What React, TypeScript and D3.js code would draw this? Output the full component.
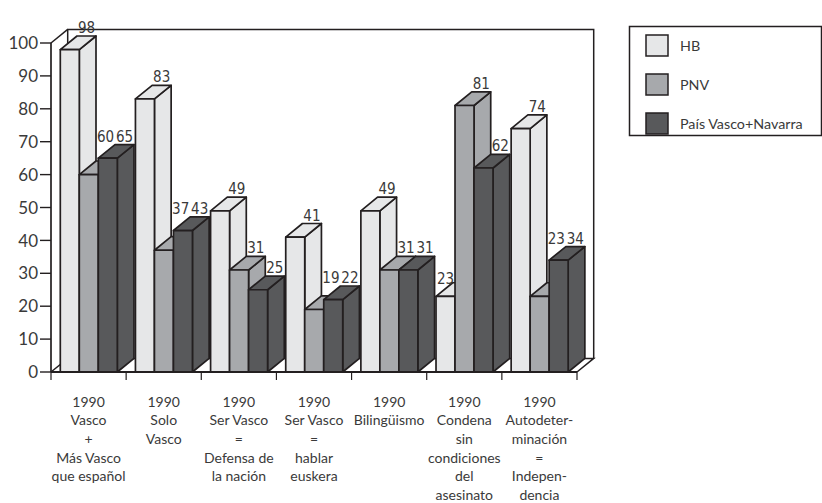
import React from "react";
import * as d3 from "d3";

const categories = ["c1", "c2", "c3", "c4", "c5", "c6", "c7"];
const categoryLabels: string[][] = [
  ["1990", "Vasco", "+", "Más Vasco", "que español"],
  ["1990", "Solo", "Vasco"],
  ["1990", "Ser Vasco", "=", "Defensa de", "la nación"],
  ["1990", "Ser Vasco", "=", "hablar", "euskera"],
  ["1990", "Bilingüismo"],
  ["1990", "Condena", "sin", "condiciones", "del", "asesinato"],
  ["1990", "Autodeter-", "minación", "=", "Indepen-", "dencia"],
];
const seriesNames = ["HB", "PNV", "País Vasco+Navarra"];
const hbValues = [98, 83, 49, 41, 49, 23, 74];
const pnvValues = [60, 37, 31, 19, 31, 81, 23];
const pvnValues = [65, 43, 25, 22, 31, 62, 34];
const yTicks = [0, 10, 20, 30, 40, 50, 60, 70, 80, 90, 100];

const seriesValues = [hbValues, pnvValues, pvnValues];
const colors = ["#e6e7e8", "#a7a9ac", "#58595b"];
const stroke = "#231f20";
const textColor = "#3a3a3a";
const mainFont = "Lato, 'Open Sans', sans-serif";
const narrowFont = "'Liberation Sans Narrow', 'DejaVu Sans Condensed', sans-serif";

export default function App() {
  const W = 822, H = 503;
  const x0 = 51, x1 = 577, yBase = 372, yTop = 43;
  const DX = 16.7, DY = 13.6;
  const y = d3.scaleLinear().domain([0, 100]).range([yBase, yTop]);
  const x = d3.scaleBand<string>().domain(categories).range([x0, x1]).paddingInner(0).paddingOuter(0);
  const bandInner = d3.scaleBand<string>().domain(seriesNames).range([0, 57]).padding(0);
  const bw = bandInner.bandwidth();
  const groupOffset = 9.3;
  const sw = 1.7;

  const bars: JSX.Element[] = [];
  const labels: JSX.Element[] = [];
  categories.forEach((c, ci) => {
    seriesNames.forEach((s, si) => {
      const v = seriesValues[si][ci];
      const bx = (x(c) as number) + groupOffset + (bandInner(s) as number);
      const by = y(v);
      const front = `M${bx},${yBase}L${bx},${by}L${bx + bw},${by}L${bx + bw},${yBase}Z`;
      const top = `M${bx},${by}L${bx + DX},${by - DY}L${bx + bw + DX},${by - DY}L${bx + bw},${by}Z`;
      const side = `M${bx + bw},${yBase}L${bx + bw},${by}L${bx + bw + DX},${by - DY}L${bx + bw + DX},${yBase - DY}Z`;
      bars.push(
        <g key={`b${ci}-${si}`} fill={colors[si]} stroke={stroke} strokeWidth={sw} strokeLinejoin="round">
          <path d={side} />
          <path d={top} />
          <path d={front} />
        </g>
      );
      let lx = bx + bw / 2 + DX;
      let ly = by - DY - 3;
      const next = si < seriesNames.length - 1 ? seriesValues[si + 1][ci] : null;
      if (next !== null && next > v) {
        if (next - v <= 15) {
          ly = y(next) - DY - 3;
        } else {
          lx = bx + bw / 2;
          ly = by - DY + 1;
        }
      }
      labels.push(
        <text key={`l${ci}-${si}`} x={lx} y={ly} textAnchor="middle" fontFamily={narrowFont} fontSize={15} fill={textColor}>
          {v}
        </text>
      );
    });
  });

  return (
    <svg width={W} height={H} style={{ position: "absolute", left: 0, top: 0, background: "#fff" }}>
      <path d={`M${x0},${yBase}L${x0},${y(100)}L${x0 + DX},${y(100) - DY}L${x1 + DX},${y(100) - DY}L${x1 + DX},${yBase - DY}L${x1},${yBase}Z`} fill="#fff" />
      <path d={`M${x0 + DX},${yBase - DY}L${x0 + DX},${y(100) - DY}L${x1 + DX},${y(100) - DY}L${x1 + DX},${yBase - DY}`} fill="none" stroke={stroke} strokeWidth={1.5} />
      <path d={`M${x0},${y(100)}L${x0 + DX},${y(100) - DY}`} fill="none" stroke={stroke} strokeWidth={1.5} />
      <path d={`M${x0},${yBase}L${x0 + DX},${yBase - DY}L${x1 + DX},${yBase - DY}L${x1},${yBase}`} fill="none" stroke={stroke} strokeWidth={1.5} />
      {bars}
      <line x1={x0} x2={x0} y1={yBase} y2={y(100)} stroke={stroke} strokeWidth={1.7} />
      <line x1={x0} x2={x1} y1={yBase} y2={yBase} stroke={stroke} strokeWidth={2.2} />
      {yTicks.map((t) => (
        <g key={`yt${t}`}>
          <line x1={x0 - 11} x2={x0} y1={y(t)} y2={y(t)} stroke={stroke} strokeWidth={1.4} />
          <text x={x0 - 13} y={y(t)} dy="0.36em" textAnchor="end" fontFamily={mainFont} fontSize={17} fill={textColor}>
            {t}
          </text>
        </g>
      ))}
      {categories.map((c, ci) => (
        <line key={`xt${ci}`} x1={x(c) as number} x2={x(c) as number} y1={yBase} y2={yBase + 8} stroke={stroke} strokeWidth={1.2} />
      ))}
      <line x1={x1} x2={x1} y1={yBase} y2={yBase + 8} stroke={stroke} strokeWidth={1.2} />
      {categories.map((c, ci) => (
        <text key={`xl${ci}`} textAnchor="middle" fontFamily={mainFont} fontSize={14} fill={textColor}>
          {categoryLabels[ci].map((ln, li) => (
            <tspan key={li} x={(x(c) as number) + x.bandwidth() / 2} y={406.5 + li * 18.7}>
              {ln}
            </tspan>
          ))}
        </text>
      ))}
      {labels}
      <rect x={629.5} y={26.5} width={192} height={109} fill="#fff" stroke={stroke} strokeWidth={1.5} />
      {seriesNames.map((s, si) => (
        <g key={`lg${si}`}>
          <rect x={646} y={35 + si * 39} width={22} height={21} fill={colors[si]} stroke={stroke} strokeWidth={1.5} />
          <text x={680} y={45.5 + si * 39} dy="0.36em" fontFamily={mainFont} fontSize={14.3} fill={textColor}>
            {s}
          </text>
        </g>
      ))}
    </svg>
  );
}
